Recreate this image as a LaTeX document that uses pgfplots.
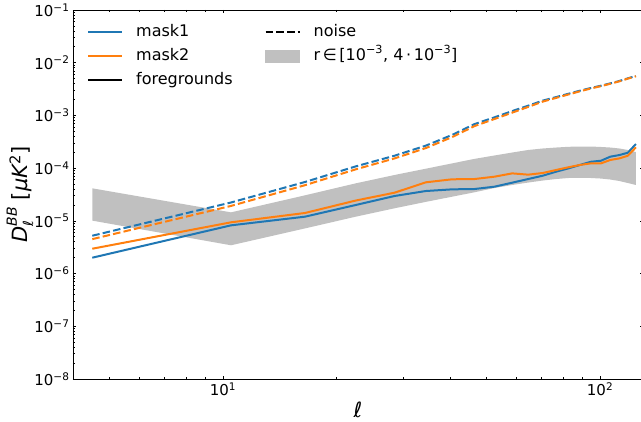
\documentclass[border=0pt]{standalone}
\usepackage{fontspec}
\setmainfont{DejaVu Sans}
\usepackage{pgfplots}
\pgfplotsset{compat=1.18}
\usepgfplotslibrary{fillbetween}
\definecolor{cA}{HTML}{1F77B4}
\definecolor{cB}{HTML}{FF7F0E}
\definecolor{band}{RGB}{192,192,192}

\pgfplotstableread{
l      m1       m2       n1       n2       up       lo
4.5    2.00e-6  2.96e-6  5.22e-6  4.50e-6  4.14e-5  1.01e-5
10.5   8.22e-6  9.38e-6  2.23e-5  1.92e-5  1.45e-5  3.44e-6
16.5   1.20e-5  1.41e-5  5.46e-5  4.75e-5  3.05e-5  7.19e-6
22.5   2.00e-5  2.43e-5  1.08e-4  9.50e-5  5.15e-5  1.20e-5
28.5   2.96e-5  3.42e-5  1.72e-4  1.53e-4  7.41e-5  1.73e-5
34.5   3.68e-5  5.38e-5  2.67e-4  2.40e-4  9.75e-5  2.29e-5
40.5   3.96e-5  6.14e-5  4.26e-4  3.88e-4  1.23e-4  2.87e-5
46.5   4.02e-5  6.22e-5  6.87e-4  6.30e-4  1.50e-4  3.49e-5
52.5   4.45e-5  6.89e-5  9.21e-4  8.56e-4  1.74e-4  4.20e-5
58.5   5.30e-5  7.96e-5  1.21e-3  1.13e-3  1.98e-4  4.79e-5
64.5   6.22e-5  7.52e-5  1.53e-3  1.45e-3  2.21e-4  5.33e-5
70.5   7.19e-5  8.09e-5  1.91e-3  1.83e-3  2.36e-4  5.82e-5
76.5   8.57e-5  9.23e-5  2.23e-3  2.15e-3  2.46e-4  6.22e-5
82.5   9.91e-5  1.04e-4  2.58e-3  2.50e-3  2.54e-4  6.50e-5
88.5   1.15e-4  1.15e-4  2.95e-3  2.87e-3  2.57e-4  6.55e-5
94.5   1.32e-4  1.23e-4  3.31e-3  3.24e-3  2.57e-4  6.50e-5
100.5  1.38e-4  1.23e-4  3.66e-3  3.59e-3  2.52e-4  6.35e-5
106.5  1.65e-4  1.43e-4  4.06e-3  3.99e-3  2.46e-4  6.08e-5
112.5  1.77e-4  1.53e-4  4.50e-3  4.43e-3  2.36e-4  5.70e-5
118.5  1.96e-4  1.72e-4  5.06e-3  4.99e-3  2.21e-4  5.22e-5
124.5  2.87e-4  2.48e-4  5.60e-3  5.53e-3  2.02e-4  4.79e-5
}\data

\begin{document}
\begin{tikzpicture}
\begin{axis}[
  scale only axis,
  width=570pt, height=369pt,
  xmode=log, ymode=log,
  xmin=4, xmax=130, ymin=1e-8, ymax=1e-1,
  axis line style={line width=0.9pt, black},
  tick align=inside,
  xtick pos=both, ytick pos=both,
  major tick length=3.5pt, minor tick length=2pt,
  every tick/.style={black, line width=0.7pt},
  xtick={10,100},
  xticklabels={10\textsuperscript{1},10\textsuperscript{2}},
  minor xtick={5,6,7,8,9,20,30,40,50,60,70,80,90},
  ytick={1e-8,1e-7,1e-6,1e-5,1e-4,1e-3,1e-2,1e-1},
  yticklabels={10\textsuperscript{−8},10\textsuperscript{−7},10\textsuperscript{−6},10\textsuperscript{−5},10\textsuperscript{−4},10\textsuperscript{−3},10\textsuperscript{−2},10\textsuperscript{−1}},
  tick label style={font=\fontsize{15}{18}\selectfont},
  xlabel={\itshape ℓ},
  every axis x label/.style={at={(axis description cs:0.5,-0.084)}, anchor=center, font=\fontsize{21}{24}\selectfont},
  ylabel={{\itshape D}\makebox[0pt][l]{\raisebox{-0.45ex}{\fontsize{14}{14}\selectfont\itshape ℓ}}\raisebox{0.95ex}{\fontsize{14}{14}\selectfont\itshape BB} [{\itshape μK}\textsuperscript{2}]},
  every axis y label/.style={at={(axis description cs:-0.093,0.5)}, rotate=90, anchor=center, font=\fontsize{21}{24}\selectfont},
  legend columns=2,
  legend style={at={(axis description cs:0,1)}, anchor=north west, xshift=14pt, yshift=-14pt,
    draw=none, fill=none, inner sep=0pt, row sep=8pt,
    nodes={inner sep=0pt, text height=12pt, text depth=4pt, font=\fontsize{16}{19}\selectfont},
    /tikz/every odd column/.style={column sep=13pt},
    /tikz/every even column/.style={column sep=32pt}},
  legend cell align=left,
  legend image code/.code={\draw[#1, line width=2pt] (0pt,0pt) -- (34pt,0pt);},
]
\addplot[name path=up, draw=none, forget plot] table[x=l, y=up] {\data};
\addplot[name path=lo, draw=none, forget plot] table[x=l, y=lo] {\data};
\addplot[fill=band, draw=none, forget plot] fill between[of=up and lo];

\addplot[cA, line width=2pt, forget plot] table[x=l, y=m1] {\data};
\addplot[cA, line width=2pt, dash pattern=on 7.5pt off 3.2pt, forget plot] table[x=l, y=n1] {\data};
\addplot[cB, line width=2pt, forget plot] table[x=l, y=m2] {\data};
\addplot[cB, line width=2pt, dash pattern=on 7.5pt off 3.2pt, forget plot] table[x=l, y=n2] {\data};

\addlegendimage{cA}
\addlegendentry{mask1}
\addlegendimage{black, dash pattern=on 7.5pt off 3.2pt}
\addlegendentry{noise}
\addlegendimage{cB}
\addlegendentry{mask2}
\addlegendimage{legend image code/.code={\fill[band] (0pt,-6pt) rectangle (34pt,6pt);}}
\addlegendentry{r\,∈\,[10\textsuperscript{−3}, 4\,⋅\,10\textsuperscript{−3}]}
\addlegendimage{black}
\addlegendentry{foregrounds}
\end{axis}
\pgfresetboundingbox
\path ([xshift=-73pt,yshift=-43pt]current axis.south west) rectangle ([xshift=-2pt,yshift=10pt]current axis.north east);
\end{tikzpicture}
\end{document}
